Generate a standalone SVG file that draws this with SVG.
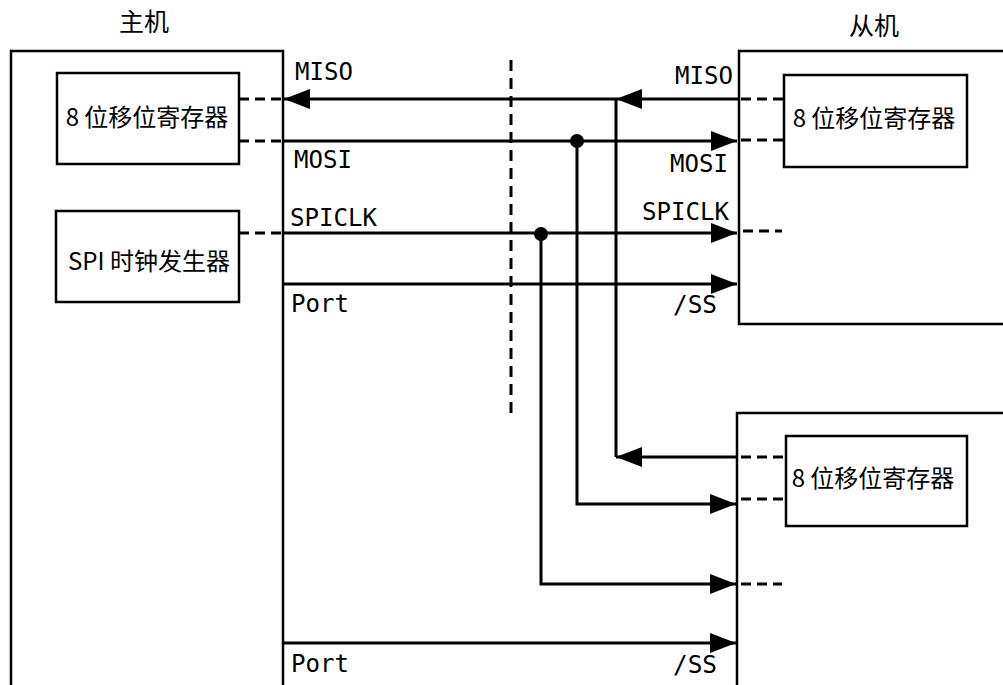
<svg xmlns="http://www.w3.org/2000/svg" width="1003" height="685" viewBox="0 0 1003 685">
<style>
.box{fill:none;stroke:#000;stroke-width:2.5}
.wire{fill:none;stroke:#000;stroke-width:3}
.dash{fill:none;stroke:#000;stroke-width:3;stroke-dasharray:10,6}
.vdash{fill:none;stroke:#000;stroke-width:3;stroke-dasharray:11,7}
.lbl{font-family:"DejaVu Sans Mono","Liberation Mono",monospace;font-size:25px;fill:#000}
.cjk{font-family:"Noto Sans CJK SC","Noto Sans",sans-serif;font-size:24px;fill:#000}
.title{font-family:"Noto Sans CJK SC","Noto Sans",sans-serif;font-size:25px;fill:#000}
</style>
<defs>
<marker id="arr" markerUnits="userSpaceOnUse" markerWidth="28" markerHeight="22" refX="26" refY="10" orient="auto">
<path d="M0,0 L26,10 L0,20 Z" fill="#000"/>
</marker>
</defs>
<g id="master">
<path class="box" d="M11,700 V51 H283 V700"/>
<text class="title" x="144" y="31" text-anchor="middle">主机</text>
</g>
<g id="master-shift">
<rect class="box" x="57" y="73" width="182" height="91"/>
<text class="cjk" x="147" y="126" text-anchor="middle">8 位移位寄存器</text>
</g>
<g id="master-clk">
<rect class="box" x="56" y="211" width="183" height="91"/>
<text class="cjk" x="149" y="270" text-anchor="middle">SPI 时钟发生器</text>
</g>
<g id="slave1">
<path class="box" d="M1010,51 H739 V324 H1010"/>
<text class="title" x="874" y="35" text-anchor="middle">从机</text>
</g>
<g id="slave1-shift">
<rect class="box" x="784" y="75" width="183" height="92"/>
<text class="cjk" x="874" y="127" text-anchor="middle">8 位移位寄存器</text>
</g>
<g id="slave2">
<path class="box" d="M737,700 V413 H1010"/>
</g>
<g id="slave2-shift">
<rect class="box" x="786" y="436" width="181" height="90"/>
<text class="cjk" x="873" y="487" text-anchor="middle">8 位移位寄存器</text>
</g>
<g id="labels">
<text class="lbl" x="295" y="80" textLength="58" lengthAdjust="spacingAndGlyphs">MISO</text>
<text class="lbl" x="294" y="168" textLength="58" lengthAdjust="spacingAndGlyphs">MOSI</text>
<text class="lbl" x="290" y="226" textLength="87" lengthAdjust="spacingAndGlyphs">SPICLK</text>
<text class="lbl" x="291" y="312" textLength="58" lengthAdjust="spacingAndGlyphs">Port</text>
<text class="lbl" x="291" y="672" textLength="58" lengthAdjust="spacingAndGlyphs">Port</text>
<text class="lbl" x="675" y="84" textLength="58" lengthAdjust="spacingAndGlyphs">MISO</text>
<text class="lbl" x="670" y="172" textLength="58" lengthAdjust="spacingAndGlyphs">MOSI</text>
<text class="lbl" x="642" y="220" textLength="87" lengthAdjust="spacingAndGlyphs">SPICLK</text>
<text class="lbl" x="673" y="313" textLength="44" lengthAdjust="spacingAndGlyphs">/SS</text>
<text class="lbl" x="673" y="673" textLength="44" lengthAdjust="spacingAndGlyphs">/SS</text>
</g>
<g id="connectors">
<path class="dash" d="M239,99 H283"/>
<path class="dash" d="M239,141 H283"/>
<path class="dash" d="M239,233 H283"/>
<path class="dash" d="M741,99 H784"/>
<path class="dash" d="M741,140 H784"/>
<path class="dash" d="M743,231 H782"/>
<path class="dash" d="M741,457 H786"/>
<path class="dash" d="M741,499 H786"/>
<path class="dash" d="M741,584 H782"/>
<path class="vdash" d="M511,60 V418"/>
<path class="wire" d="M739,99 H616" marker-end="url(#arr)"/>
<path class="wire" d="M616,99 H284" marker-end="url(#arr)"/>
<path class="wire" d="M616,99 V457"/>
<path class="wire" d="M737,457 H616" marker-end="url(#arr)"/>
<path class="wire" d="M283,141 H737" marker-end="url(#arr)"/>
<path class="wire" d="M577,141 V504 H736" marker-end="url(#arr)"/>
<circle cx="577" cy="141" r="7" fill="#000"/>
<path class="wire" d="M283,233 H737" marker-end="url(#arr)"/>
<path class="wire" d="M541,234 V584 H736" marker-end="url(#arr)"/>
<circle cx="541" cy="234" r="7" fill="#000"/>
<path class="wire" d="M283,284 H737" marker-end="url(#arr)"/>
<path class="wire" d="M283,643 H736" marker-end="url(#arr)"/>
</g>
</svg>
